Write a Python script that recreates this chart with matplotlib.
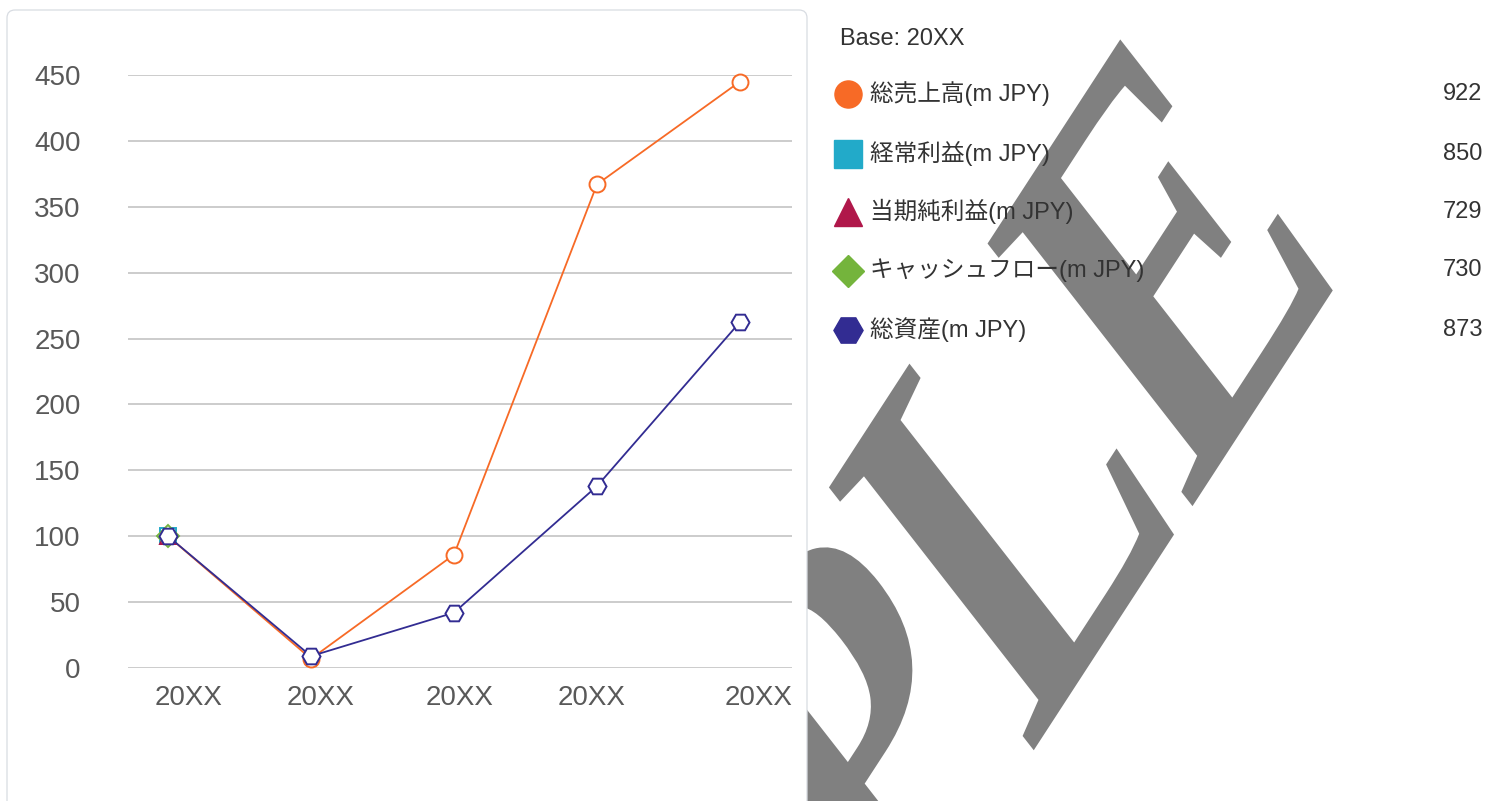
import numpy as np
import matplotlib
matplotlib.use('Agg')
import matplotlib.pyplot as plt
from matplotlib.textpath import TextPath
from matplotlib.font_manager import FontProperties
from matplotlib.patches import PathPatch, FancyBboxPatch
from matplotlib.transforms import Affine2D

# data
years = ['20XX', '20XX', '20XX', '20XX', '20XX']
sales = [100, 7, 86, 367, 445]              # 総売上高
ordinary = [100, np.nan, np.nan, np.nan, np.nan]   # 経常利益
net_income = [100, np.nan, np.nan, np.nan, np.nan] # 当期純利益
cashflow = [100, np.nan, np.nan, np.nan, np.nan]   # キャッシュフロー
assets = [100, 9, 42, 138, 262.5]           # 総資産
series_names = ['総売上高(m JPY)', '経常利益(m JPY)', '当期純利益(m JPY)',
                'キャッシュフロー(m JPY)', '総資産(m JPY)']
base_values = [922, 850, 729, 730, 873]
base_label = 'Base: 20XX'
y_ticks = [0, 50, 100, 150, 200, 250, 300, 350, 400, 450]

colors = ['#f76a26', '#22aac9', '#b0174a', '#74b43c', '#322c92']
markers = ['o', 's', '^', 'D', 'H']
all_series = [sales, ordinary, net_income, cashflow, assets]

W, H = 1485, 801
fig = plt.figure(figsize=(W / 100, H / 100), dpi=100)
fig.patch.set_facecolor('white')

# background layer in pixel coords (y up): watermark + panel
bax = fig.add_axes([0, 0, 1, 1], zorder=0)
bax.set_xlim(0, W)
bax.set_ylim(0, H)
bax.axis('off')

tp = TextPath((0, 0), 'SAMPLE', size=1,
              prop=FontProperties(family='Liberation Serif', weight='bold'))
xmax = tp.vertices[:, 0].max()
bx, by = 238, 366     # baseline direction (px per em)
ux, uy = -313, 401    # upward direction (px per em)
ax0, ay0 = 1335, H - 287
mat = np.array([[bx, ux, ax0 - bx * xmax],
                [by, uy, ay0 - by * xmax],
                [0, 0, 1]])
wm = PathPatch(tp, transform=Affine2D(mat) + bax.transData,
               facecolor='#808080', edgecolor='none', zorder=1)
bax.add_patch(wm)

panel = FancyBboxPatch((7, -40), 800, H - 10 + 40,
                       boxstyle='round,pad=0,rounding_size=8',
                       facecolor='white', edgecolor='#d8dce2', lw=0.9, zorder=2)
bax.add_patch(panel)

# chart
ax = fig.add_axes([128 / W, (H - 668) / H, (792 - 128) / W, (668 - 75) / H], zorder=1)
ax.patch.set_alpha(0)
x = np.arange(len(years))
for vals, c, m in zip(all_series, colors, markers):
    ax.plot(x, vals, color=c, lw=1.3, marker=m, ms=11.5 if m != 'H' else 13,
            mfc='white', mec=c, mew=1.4, clip_on=False)

ax.set_xlim(-0.28, 4.364)
ax.set_ylim(0, 450)
ax.set_yticks(y_ticks)
ax.set_xticks([0.147, 1.067, 2.04, 2.96, 4.13], years)
ax.grid(axis='y', color='#cccccc', lw=1.4)
ax.set_axisbelow(True)
for s in ax.spines.values():
    s.set_visible(False)
ax.tick_params(axis='both', length=0, labelsize=20, labelcolor='#595959')
ax.tick_params(axis='y', pad=34)
ax.tick_params(axis='x', pad=12)
for lab in ax.get_xticklabels() + ax.get_yticklabels():
    lab.set_fontfamily('Liberation Sans')

# legend layer in pixel coords (y down)
lax = fig.add_axes([0, 0, 1, 1], zorder=2)
lax.set_xlim(0, W)
lax.set_ylim(H, 0)
lax.axis('off')
lax.patch.set_alpha(0)
fam = ['Liberation Sans', 'Noto Sans CJK JP']
lax.text(840, 39, base_label, fontsize=17, color='#333333', family=fam, va='center')
row_y = [94, 153.5, 211.5, 270.5, 329.5]
msizes = [19.5, 19.5, 20, 16, 21]
for yy, name, val, c, m, msz in zip(row_y, series_names, base_values, colors, markers, msizes):
    lax.plot([847.5], [yy], marker=m, ms=msz, color=c, mec=c, lw=0)
    lax.text(870, yy, name, fontsize=17, color='#333333', family=fam, va='center')
    lax.text(1482, yy, str(val), fontsize=17, color='#333333', family=fam,
             va='center', ha='right')

fig.savefig('out.png', dpi=100, facecolor='white')
